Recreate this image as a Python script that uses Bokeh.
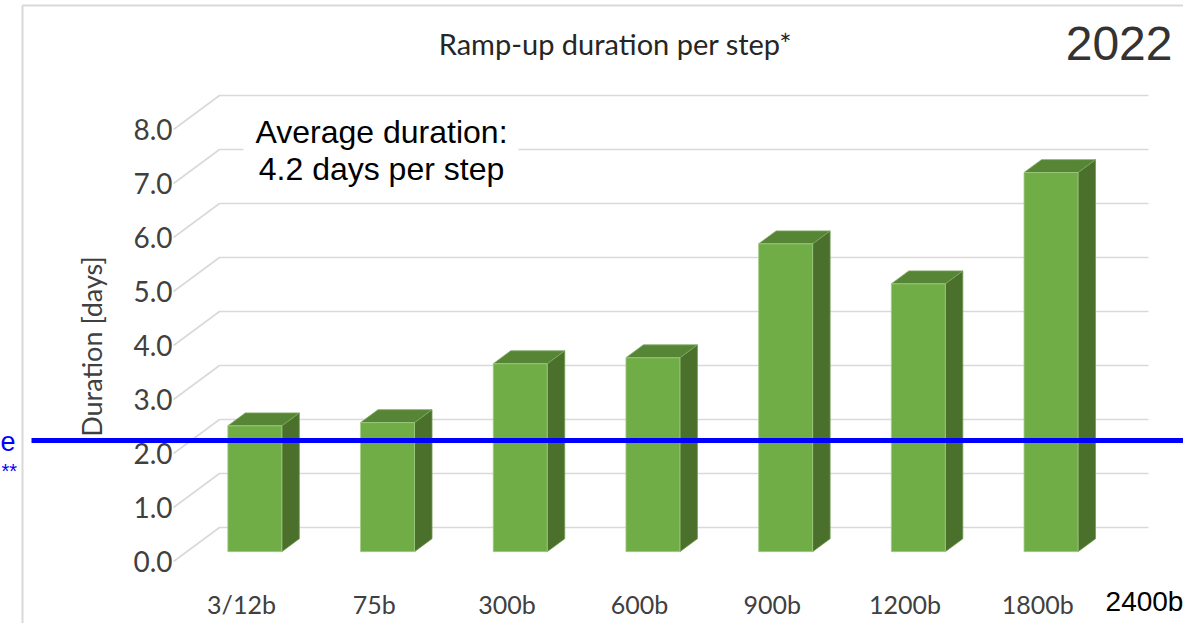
from bokeh.plotting import figure
from bokeh.models import Range1d, Label, BoxAnnotation
from bokeh.core.properties import value
from bokeh.embed import file_html
from bokeh.resources import INLINE
import math

# ---------------- data ----------------
categories = ["3/12b", "75b", "300b", "600b", "900b", "1200b", "1800b"]
durations = [2.33, 2.39, 3.48, 3.59, 5.70, 4.96, 7.02]
extra_category = "2400b"
y_ticks = [0, 1, 2, 3, 4, 5, 6, 7, 8]
y_tick_labels = ["%.1f" % t for t in y_ticks]
reference_level = 2.06
title_text = "Ramp-up duration per step*"
year_text = "2022"
avg_lines = ["Average duration:", "4.2 days per step"]
y_title = "Duration [days]"

# ---------------- geometry (pixel <-> data on front plane) ----------------
W, H = 1183, 623
PXX, PXY = 132.7, 54.0          # pixels per unit
OX, OY = 241.0, 561.0           # picture pixel of (0,0) on the front plane
def X(px):
    return (px - OX) / PXX
def Y(py):
    return (OY - py) / PXY

x_start, x_end = X(0), X(W)
y_start, y_end = Y(H), Y(0)

DX, DY = 46 / PXX, 34 / PXY     # full depth vector of the floor
F_DEPTH, B_DEPTH = 0.29, 0.67   # bar front / back depth
HW = 27 / PXX                   # half bar width

p = figure(width=W, height=H, x_range=Range1d(x_start, x_end),
           y_range=Range1d(y_start, y_end), output_backend="svg",
           toolbar_location=None, min_border=0,
           x_axis_location=None, y_axis_location=None)
p.grid.visible = False
p.outline_line_color = None
p.background_fill_color = "white"
p.border_fill_color = "white"

# outer frame (light grey)
p.line([X(22), X(22), X(1300)], [Y(700), Y(5), Y(5)], line_color="#d9d9d9", line_width=2)

# gridlines (side wall diagonal + back wall horizontal)
gx0 = X(173)
gxe = X(1148)
p.multi_line(xs=[[gx0, gx0 + DX, gxe] for _ in y_ticks],
             ys=[[t, t + DY, t + DY] for t in y_ticks],
             line_color="#d9d9d9", line_width=1.6)

# y tick labels
p.text(x=[X(172)] * len(y_ticks), y=y_ticks, text=y_tick_labels,
       text_font=value("Lato"), text_font_size="28px", text_color="#404040",
       text_align="right", text_baseline="middle")

# bars (3D look)
y0 = F_DEPTH * DY
bdx, bdy = (B_DEPTH - F_DEPTH) * DX, (B_DEPTH - F_DEPTH) * DY
cxs = [i + F_DEPTH * DX for i in range(len(categories))]
lefts = [c - HW for c in cxs]
rights = [c + HW for c in cxs]
tops = [v + y0 for v in durations]

side_xs = [[r, r + bdx, r + bdx, r] for r in rights]
side_ys = [[y0, y0 + bdy, t + bdy, t] for t in tops]
top_xs = [[l, r, r + bdx, l + bdx] for l, r in zip(lefts, rights)]
top_ys = [[t, t, t + bdy, t + bdy] for t in tops]

p.patches(side_xs, side_ys, fill_color="#4a702b", line_color="#6f9a52", line_width=0.8)
p.patches(top_xs, top_ys, fill_color="#578536", line_color="#7eaa5f", line_width=0.8)
p.quad(left=lefts, right=rights, bottom=[y0] * len(tops), top=tops,
       fill_color="#70ad47", line_color="#a3cc86", line_width=0.8)

# x category labels
p.text(x=list(range(len(categories))), y=[Y(603)] * len(categories), text=categories,
       text_font=value("Lato"), text_font_size="25px", text_color="#404040",
       text_align="center", text_baseline="middle")

# reference line (blue)
p.segment(x0=[X(31)], y0=[reference_level + y0], x1=[x_end + 1], y1=[reference_level + y0],
          line_color="#0000ff", line_width=5)

# average box
p.add_layout(BoxAnnotation(left=X(243), right=X(518), bottom=Y(196), top=Y(104),
                           fill_color="white", fill_alpha=1.0, line_color=None))

for k, t in enumerate(avg_lines):
    p.add_layout(Label(x=X(381), y=Y(131 + 37 * k), text=t,
                       text_font="Liberation Sans", text_font_size="32px",
                       text_color="#000000", text_align="center", text_baseline="middle"))

# title, year, axis title, extra category, blue side texts
p.add_layout(Label(x=X(615), y=Y(43), text=title_text, text_font="Lato",
                   text_font_size="29px", text_color="#262626",
                   text_align="center", text_baseline="middle"))
p.add_layout(Label(x=X(1172), y=Y(43), text=year_text, text_font="Liberation Sans",
                   text_font_size="48px", text_color="#333333",
                   text_align="right", text_baseline="middle"))
p.add_layout(Label(x=X(91), y=Y(346), text=y_title, text_font="Lato",
                   text_font_size="27px", text_color="#404040", angle=math.pi / 2,
                   text_align="center", text_baseline="middle"))
p.add_layout(Label(x=X(1144), y=Y(601), text=extra_category, text_font="Liberation Sans",
                   text_font_size="28px", text_color="#000000",
                   text_align="center", text_baseline="middle"))
p.add_layout(Label(x=X(15), y=Y(441), text="e", text_font="Liberation Sans",
                   text_font_size="27px", text_color="#0000ff",
                   text_align="right", text_baseline="middle"))
p.add_layout(Label(x=X(1), y=Y(470), text="**", text_font="Liberation Sans",
                   text_font_size="20px", text_color="#0000ff",
                   text_align="left", text_baseline="middle"))

open("out.html", "w").write(file_html(p, INLINE))
